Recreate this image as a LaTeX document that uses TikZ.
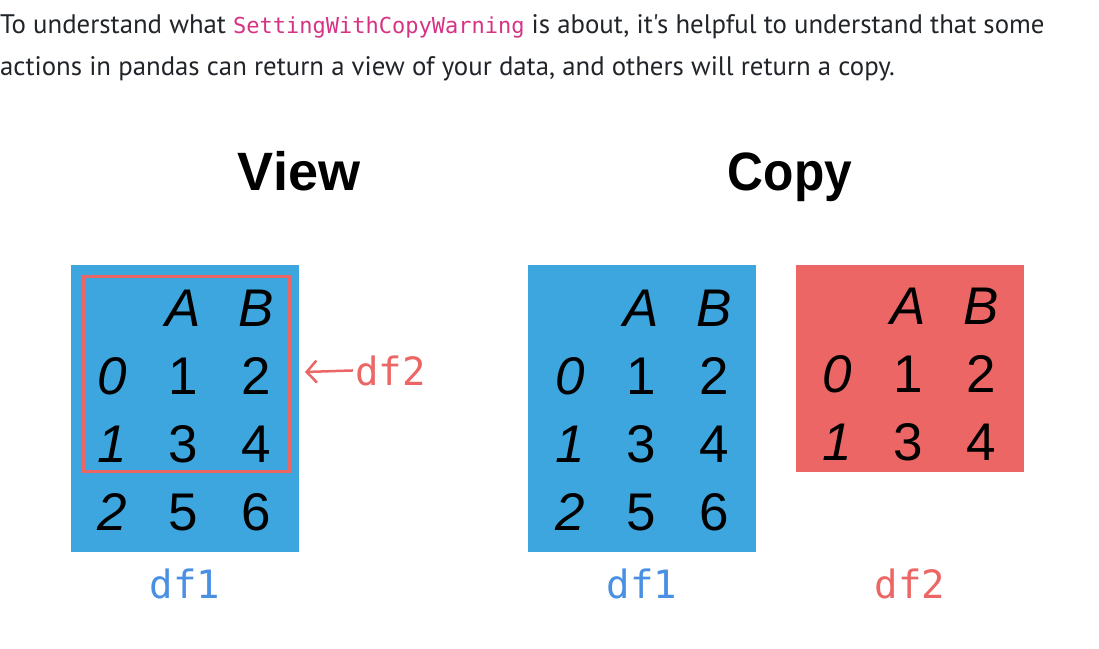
\documentclass[tikz,border=0pt]{standalone}
\usepackage{fontspec}
\usetikzlibrary{arrows.meta}
\newfontfamily\bodyfont{PT Sans}
\newfontfamily\codefont{DejaVu Sans Mono}
\newfontfamily\tabfont{Liberation Sans}
\newfontfamily\titlefontnarrow[FakeStretch=0.92]{Liberation Sans}
\newfontfamily\labfont{DejaVu Sans Mono}
\definecolor{boxblue}{RGB}{62,166,222}
\definecolor{boxred}{RGB}{236,102,102}
\definecolor{labblue}{RGB}{74,144,226}
\definecolor{labred}{RGB}{236,102,102}
\definecolor{codepink}{RGB}{214,51,132}
\definecolor{bodytext}{RGB}{33,37,41}
\newcommand\dftable[4]{%
  \node[hdr] (#1-A) at (#2+71,#3) {A};
  \node[hdr] (#1-B) at (#2+144,#3) {B};
  \foreach \i/\a/\b in {0/1/2,1/3/4,2/5/6}{%
    \ifnum\i<#4\relax
      \node[idx] (#1-i\i) at (#2,#3+68*\i+68) {\i};
      \node[cell] (#1-a\i) at (#2+71,#3+68*\i+68) {\a};
      \node[cell] (#1-b\i) at (#2+144,#3+68*\i+68) {\b};
    \fi
  }%
}
\begin{document}
\begin{tikzpicture}[x=1pt,y=-1pt,
  body/.style={anchor=base west,inner sep=0pt,text=bodytext,font={\bodyfont\fontsize{26.8}{30}\selectfont}},
  title/.style={anchor=base,inner sep=0pt,font={\tabfont\bfseries\fontsize{54}{60}\selectfont}},
  cell/.style={anchor=base,inner sep=0pt,font={\tabfont\fontsize{53}{60}\selectfont}},
  idx/.style={cell,font={\tabfont\itshape\fontsize{53}{60}\selectfont}},
  hdr/.style={idx},
  bluebox/.style={fill=boxblue,draw=none,minimum width=228pt,minimum height=287pt,inner sep=0pt},
  redbox/.style={fill=boxred,draw=none,minimum width=228pt,minimum height=207pt,inner sep=0pt},
  frame/.style={draw=boxred,line width=3pt,minimum width=206pt,minimum height=195pt,inner sep=0pt},
  lab/.style={anchor=base,inner sep=0pt,font={\labfont\fontsize{39}{42}\selectfont}},
  arr/.style={draw=labred,line width=2.5pt,-{Straight Barb[length=10pt,width=22pt]}}
]
\useasboundingbox (0,0) rectangle (1099,648);
\node[body] (t1) at (0,33) {To understand what {\codefont\fontsize{22}{30}\selectfont\color{codepink}SettingWithCopyWarning} is about, it's helpful to understand that some};
\node[body] (t2) at (0,75) {actions in pandas can return a view of your data, and others will return a copy.};
\node[title] (view) at (299,190) {View};
\node[title,font={\titlefontnarrow\bfseries\fontsize{54}{60}\selectfont}] (copy) at (790,190) {Copy};
% boxes
\node[bluebox] (v1) at (185,408.5) {};
\node[frame] (v2) at (186,373.5) {};
\node[bluebox] (c1) at (642,408.5) {};
\node[redbox] (c2) at (910,368.5) {};
% tables
\dftable{v}{112}{326}{3}
\dftable{c}{570}{326}{3}
\dftable{r}{837}{324}{2}
% labels
\node[lab,text=labblue] (v1lab) at (185,598) {df1};
\node[lab,text=labblue] (c1lab) at (642,598) {df1};
\node[lab,text=labred] (c2lab) at (910,598) {df2};
\node[lab,anchor=base west,text=labred] (v2lab) at (355,385) {df2};
\coordinate (tip) at (305,372);
\draw[arr] ([xshift=-2pt]v2lab.west) -- (tip);
\end{tikzpicture}
\end{document}
